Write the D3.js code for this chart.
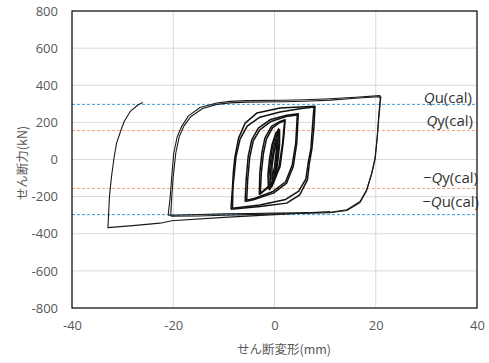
<!DOCTYPE html>
<html>
<head>
<meta charset="utf-8">
<script src="https://cdn.jsdelivr.net/npm/d3@7"></script>
<style>
  body { margin: 0; background: #fff; }
  svg { display: block; }
  .tick text { font-family: "Open Sans", sans-serif; font-size: 13px; fill: #595959; }
</style>
</head>
<body>
<svg id="chart" width="489" height="363"></svg>
<script>
// axis ticks
const xTicks = [-40, -20, 0, 20, 40];
const yTicks = [-800, -600, -400, -200, 0, 200, 400, 600, 800];

// calculated strengths (kN)
const refValues = [297, 156, -156, -297];
const refSigns = ["", "", "−", "−"];
const refSubs = ["u", "y", "y", "u"];
const refColors = ["#3d9bd8", "#f4a27a", "#f4a27a", "#3d9bd8"];

// hysteresis loops [deformation mm, shear kN]
const inner1 = [[-1.0,-165],[-1.1,-90],[-0.8,-10],[-0.4,70],[0.2,130],[0.8,165],[0.9,90],[0.6,10],[0.2,-70],[-0.4,-135],[-1.0,-165]];
const inner2 = [[-0.7,-145],[-0.8,-70],[-0.5,0],[-0.1,70],[0.4,125],[0.7,150],[0.6,60],[0.3,-20],[-0.1,-90],[-0.7,-145]];
const inner3 = [[-0.5,-110],[-0.5,-40],[-0.2,20],[0.2,80],[0.5,110],[0.3,30],[0.0,-40],[-0.5,-110]];
const inner4 = [[-1.2,-158],[-1.3,-80],[-1.0,0],[-0.5,80],[0.3,145],[1.0,160],[1.0,80],[0.7,0],[0.3,-80],[-0.5,-145],[-1.2,-158]];

const loop3a = [[-3.0,-190],[-2.9,-73],[-2.5,35],[-1.9,115],[-0.6,178],[1.1,205],[2.1,214],[1.9,140],[1.7,88],[1.1,-38],[-0.2,-127],[-2.2,-172],[-3.0,-190]];
const loop3b = [[-2.8,-184],[-2.6,-70],[-2.2,30],[-1.6,110],[-0.4,170],[1.0,198],[2.0,208],[1.6,88],[0.9,-35],[-0.4,-125],[-2.1,-166],[-2.8,-184]];

const loop5a = [[-5.8,-226],[-5.6,-110],[-5.2,16],[-4.5,106],[-3.2,169],[-0.9,214],[2.4,238],[4.7,246],[4.4,88],[3.7,-38],[2.4,-127],[-0.2,-181],[-4.2,-217],[-5.8,-226]];
const loop5b = [[-5.5,-220],[-5.3,-110],[-4.9,10],[-4.2,100],[-2.9,160],[-0.7,205],[2.3,232],[4.5,240],[4.2,90],[3.5,-30],[2.2,-120],[-0.3,-172],[-4.0,-210],[-5.5,-220]];

const loop8a = [[-8.6,-268],[-8.3,-150],[-8.1,-60],[-7.8,16],[-7.1,115],[-5.8,196],[-3.5,250],[1.1,277],[5.0,283],[8.0,287],[7.8,178],[7.4,60],[6.9,-19],[6.5,-110],[5.0,-190],[2.4,-235],[-2.9,-253],[-8.6,-268]];
const loop8b = [[-8.3,-262],[-8.2,-146],[-7.6,16],[-6.8,110],[-5.4,180],[-2.9,228],[1.1,256],[5.0,274],[7.8,283],[7.5,178],[7.2,60],[6.7,-10],[6.2,-105],[4.8,-170],[2.2,-215],[-2.9,-245],[-8.3,-262]];

const loop20a = [[-21.0,-300],[-15,-296],[-10,-293],[-5,-291],[0,-289],[5,-287],[11,-284],[14.3,-271],[16.9,-226],[18.2,-163],[19.2,-73],[19.85,8],[20.3,124],[20.7,250],[21.0,337],[20.8,344],[16,335],[11,327],[6,322],[1.7,319],[-5.5,317],[-8.8,313],[-11.4,304],[-14.7,280],[-17.0,235],[-18.3,180],[-19.2,124],[-19.9,35],[-20.3,-92],[-20.6,-200],[-21.0,-300]];
const loop20b = [[-20.5,-305],[-15,-304],[-10,-300],[-5,-297],[0,-294],[5,-291],[11,-287],[14.3,-275],[16.9,-232],[18.2,-168],[19.2,-78],[19.9,5],[20.3,120],[20.6,245],[20.9,330],[20.6,338],[16,330],[11,320],[6,314],[1.7,311],[-5.5,309],[-8.8,305],[-11.4,297],[-14.2,275],[-16.5,232],[-17.9,180],[-18.8,124],[-19.5,35],[-20.0,-92],[-20.3,-200],[-20.5,-305]];

const finalPath = [[11,-280],[0,-297],[-10,-312],[-20.3,-330],[-22.6,-343],[-28,-356],[-32.9,-367],[-32.6,-200],[-32.2,-92],[-31.7,8],[-31.2,88],[-30.3,160],[-29.7,205],[-28.5,259],[-26.9,295],[-26.0,307]];

const thinLoops = [loop20a, loop20b, finalPath];
const boldLoops = [loop8a, loop8b, loop5a, loop5b, loop3a, loop3b, inner1, inner2, inner3, inner4];

const plotLeft = 72, plotRight = 477, plotTop = 11, plotBottom = 308;

const svg = d3.select("#chart");
const x = d3.scaleLinear().domain([-40, 40]).range([plotLeft, plotRight]);
const y = d3.scaleLinear().domain([-800, 800]).range([plotBottom, plotTop]);

// grid
svg.append("g")
  .selectAll("line")
  .data(yTicks.slice(1, -1))
  .enter()
  .append("line")
  .attr("x1", plotLeft).attr("x2", plotRight)
  .attr("y1", d => y(d)).attr("y2", d => y(d))
  .attr("stroke", "#d9d9d9").attr("stroke-width", 1);

svg.append("g")
  .selectAll("line")
  .data(xTicks.slice(1, -1))
  .enter()
  .append("line")
  .attr("y1", plotTop).attr("y2", plotBottom)
  .attr("x1", d => x(d)).attr("x2", d => x(d))
  .attr("stroke", "#d9d9d9").attr("stroke-width", 1);

// reference lines
svg.append("g")
  .selectAll("line")
  .data(refValues)
  .enter()
  .append("line")
  .attr("x1", plotLeft).attr("x2", plotRight)
  .attr("y1", d => y(d)).attr("y2", d => y(d))
  .attr("stroke", (d, i) => refColors[i])
  .attr("stroke-width", 1)
  .attr("stroke-dasharray", "3,2");

const line = d3.line().x(d => x(d[0])).y(d => y(d[1]));

svg.append("g")
  .selectAll("path")
  .data(thinLoops)
  .enter()
  .append("path")
  .attr("d", line)
  .attr("fill", "none")
  .attr("stroke", "#1a1a1a")
  .attr("stroke-width", 1.1)
  .attr("stroke-linejoin", "round");

svg.append("g")
  .selectAll("path")
  .data(boldLoops)
  .enter()
  .append("path")
  .attr("d", line)
  .attr("fill", "none")
  .attr("stroke", "#111")
  .attr("stroke-width", 1.5)
  .attr("stroke-linejoin", "round");

// frame
svg.append("rect")
  .attr("x", plotLeft).attr("y", plotTop)
  .attr("width", plotRight - plotLeft).attr("height", plotBottom - plotTop)
  .attr("fill", "none").attr("stroke", "#000").attr("stroke-width", 1.2);

// axes (plain hyphen like the original)
const yAxis = svg.append("g")
  .attr("transform", "translate(" + plotLeft + ",0)")
  .call(d3.axisLeft(y).tickValues(yTicks).tickFormat(d => String(d)).tickSize(0).tickPadding(14));
yAxis.select(".domain").remove();

const xAxis = svg.append("g")
  .attr("transform", "translate(0," + plotBottom + ")")
  .call(d3.axisBottom(x).tickValues(xTicks).tickFormat(d => String(d)).tickSize(0).tickPadding(13));
xAxis.select(".domain").remove();

// reference labels
const labelPos = [[472, 103], [473, 126], [478, 183], [479, 207]];
const labels = svg.append("g")
  .selectAll("text")
  .data(refValues)
  .enter()
  .append("text")
  .attr("x", (d, i) => labelPos[i][0])
  .attr("y", (d, i) => labelPos[i][1])
  .attr("text-anchor", "end")
  .style("font-family", "'Open Sans', sans-serif")
  .style("font-size", "15px")
  .style("fill", "#333");
labels.append("tspan").text((d, i) => refSigns[i]);
labels.append("tspan").style("font-style", "italic").text("Q");
labels.append("tspan").text((d, i) => refSubs[i] + "(cal)");

// axis titles
svg.append("text")
  .attr("x", 284).attr("y", 354)
  .attr("text-anchor", "middle")
  .style("font-family", "'Noto Sans CJK JP', sans-serif")
  .style("font-size", "12.5px")
  .style("fill", "#595959")
  .text("せん断変形(mm)");

svg.append("text")
  .attr("transform", "translate(27,163) rotate(-90)")
  .attr("text-anchor", "middle")
  .style("font-family", "'Noto Sans CJK JP', sans-serif")
  .style("font-size", "12.5px")
  .style("fill", "#595959")
  .text("せん断力(kN)");
</script>
</body>
</html>
